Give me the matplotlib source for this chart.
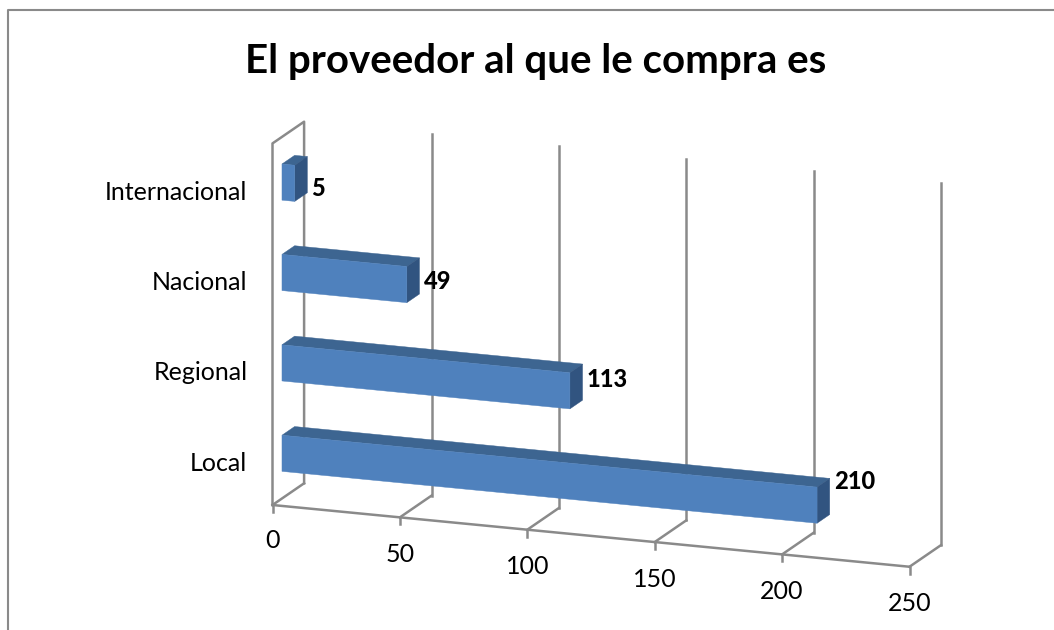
from __future__ import annotations

import matplotlib
matplotlib.use("Agg")
import matplotlib.pyplot as plt
from matplotlib.patches import Polygon


TITLE = "El proveedor al que le compra es"
CATEGORIES = ["Local", "Regional", "Nacional", "Internacional"]
VALUES = [210, 113, 49, 5]
X_TICKS = [0, 50, 100, 150, 200, 250]

GRID = "#8a8a8a"
FRONT = "#4f81bd"
TOP = "#3d6591"
SIDE = "#315480"

# oblique projection of the Excel 3D chart, in figure pixels
ORIGIN = (272.5, 505.0)
PER_VALUE = (2.548, 0.247)
PER_BAND = (0.0, -90.4)
PER_DEPTH = (31.6, -21.7)
BAR_SPAN = (0.3, 0.7)

LABEL_NUDGE = [3, 15, 24, 32]


def project(value: float, band: float = 0.0, depth: float = 0.0) -> tuple[float, float]:
    x = ORIGIN[0] + value * PER_VALUE[0] + band * PER_BAND[0] + depth * PER_DEPTH[0]
    y = ORIGIN[1] + value * PER_VALUE[1] + band * PER_BAND[1] + depth * PER_DEPTH[1]
    return x, y


def line(ax, *points, lw: float = 1.8, color: str = GRID, z: int = 1) -> None:
    xs, ys = zip(*points)
    ax.plot(xs, ys, color=color, lw=lw, solid_capstyle="projecting", zorder=z)


def draw_bar(ax, band: int, value: float) -> None:
    lo, hi = BAR_SPAN
    b0, b1 = band + lo, band + hi
    front = [project(0, b0, lo), project(value, b0, lo), project(value, b1, lo), project(0, b1, lo)]
    top = [project(0, b1, lo), project(value, b1, lo), project(value, b1, hi), project(0, b1, hi)]
    side = [project(value, b0, lo), project(value, b0, hi), project(value, b1, hi), project(value, b1, lo)]
    for pts, color in ((top, TOP), (side, SIDE), (front, FRONT)):
        ax.add_patch(Polygon(pts, closed=True, facecolor=color, edgecolor=color, lw=0.3, zorder=3))


def main() -> None:
    plt.rcParams["font.family"] = ["Lato", "DejaVu Sans"]
    fig = plt.figure(figsize=(10.54, 6.30), dpi=100)
    ax = fig.add_axes([0, 0, 1, 1])
    ax.set_xlim(0, 1054)
    ax.set_ylim(630, 0)
    ax.axis("off")

    # chart area border, cropped on the right and at the bottom
    line(ax, (7.5, 632), (7.5, 9.5), (1056, 9.5), lw=1.5)

    n_bands = len(CATEGORIES)

    # left wall
    line(ax, project(0), project(0, n_bands), project(0, n_bands, 1), project(0, 0, 1))

    # floor, grid and ticks
    line(ax, project(X_TICKS[0]), project(X_TICKS[-1]))
    for tick in X_TICKS:
        line(ax, project(tick), project(tick, 0, 1))
        if tick != X_TICKS[0]:
            line(ax, project(tick, 0, 1), project(tick, n_bands, 1))
        x, y = project(tick)
        line(ax, (x, y), (x, y + 7))
        ax.text(x, y + 37 if tick else y + 35, str(tick), ha="center", va="center", fontsize=18, color="black")

    for band, (name, value) in enumerate(zip(CATEGORIES, VALUES)):
        draw_bar(ax, band, value)

        _, yc = project(0, band + 0.5, 0.3)
        x0, _ = project(0)
        ax.text(x0 - 25, yc + 10, name, ha="right", va="center", fontsize=18, color="black")

        xv, yv = project(value, band + 0.7, 0.7)
        ax.text(xv + 4, yv + LABEL_NUDGE[band], str(value), ha="left", va="center",
                fontsize=17, fontweight="black", color="black", zorder=4)

    ax.text(535.5, 61.5, TITLE, ha="center", va="center", fontsize=29, fontweight="bold", color="black")

    fig.savefig("out.png", dpi=100)
    plt.close(fig)


if __name__ == "__main__":
    main()
